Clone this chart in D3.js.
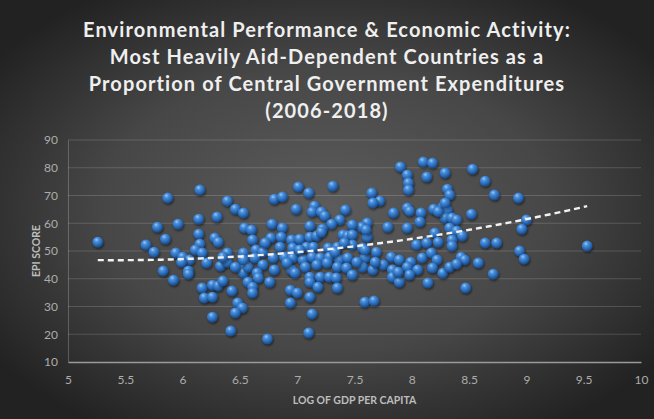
<!DOCTYPE html>
<html><head><meta charset="utf-8">
<script src="https://cdn.jsdelivr.net/npm/d3@7"></script>
<style>
html,body{margin:0;padding:0;background:#333;}
svg{display:block;}
</style></head>
<body>
<svg id="chart" width="654" height="419"></svg>
<script>
const titleLines = [
  "Environmental Performance & Economic Activity:",
  "Most Heavily Aid-Dependent Countries as a",
  "Proportion of Central Government Expenditures",
  "(2006-2018)"
];
const xTicks = [5,5.5,6,6.5,7,7.5,8,8.5,9,9.5,10];
const yTicks = [10,20,30,40,50,60,70,80,90];
const xTitle = "LOG OF GDP PER CAPITA";
const yTitle = "EPI SCORE";

const gdpLog = [
5.26,5.68,5.75,5.78,5.85,5.87,5.83,5.92,5.96,5.94,6.00,6.06,5.99,6.05,6.05,6.15,6.14,6.14,6.15,6.11,
6.17,6.21,6.30,6.28,6.31,6.33,6.39,6.39,6.35,6.53,6.39,6.46,6.53,6.54,6.17,6.19,6.26,6.26,6.31,6.35,
6.43,6.48,6.52,6.46,6.26,6.42,6.53,6.53,6.57,6.57,6.53,6.46,
7.31,7.01,7.10,6.80,6.87,6.99,7.15,7.13,7.21,7.24,7.42,7.65,7.72,7.66,7.90,8.10,8.18,8.29,
8.13,7.96,7.97,7.97,8.31,7.84,7.96,7.98,8.08,8.19,8.27,8.31,8.29,8.07,7.96,7.79,7.61,7.56,7.48,7.37,
7.30,7.11,7.22,6.78,6.87,6.60,6.61,6.77,6.86,6.95,7.02,7.11,7.17,7.21,7.40,7.44,7.48,7.61,7.60,8.04,
8.13,8.20,6.85,6.96,7.08,7.14,7.27,7.35,7.48,7.57,7.69,6.64,6.70,6.63,6.79,6.89,6.96,7.05,7.13,7.20,
7.28,7.37,7.44,7.59,7.82,7.89,7.99,8.09,8.17,8.22,6.70,6.80,6.95,7.07,7.17,7.26,7.35,7.43,7.57,7.66,
7.75,7.83,7.96,8.05,8.18,6.65,6.98,7.11,7.20,7.28,7.34,7.48,7.83,7.98,6.66,6.76,7.11,7.35,7.18,7.89,
8.14,6.61,6.61,6.94,7.00,7.11,6.94,7.59,7.67,7.13,7.10,6.74,
7.59,8.23,8.23,7.68,7.88,8.27,
8.53,8.64,8.33,8.72,8.93,8.52,8.35,8.39,9.00,8.96,8.33,8.39,8.44,8.35,8.35,8.64,8.74,9.53,8.43,8.46,
8.94,8.98,8.33,8.39,8.58,8.71,8.47,
8.29,6.72,6.91,7.02,7.33,7.52,7.41
];
const epiScore = [
53.2,52.2,49.6,58.6,54.3,69.1,42.8,39.5,59.7,49.3,47.8,46.8,46.0,42.8,41.7,72.0,61.5,56.1,52.5,50.4,
49.3,45.7,62.3,54.7,53.2,44.6,46.0,49.3,47.8,49.3,68.0,65.1,63.7,58.3,36.7,33.1,37.7,33.4,37.4,39.2,
35.6,31.3,29.5,27.7,26.2,21.2,43.9,42.1,38.8,44.2,46.8,44.2,
73.4,73.1,70.9,68.7,69.5,65.1,66.2,64.1,64.1,62.6,64.8,70.9,68.0,67.3,80.3,82.1,81.7,78.1,
76.7,77.4,74.5,72.0,72.3,63.7,65.5,64.4,63.7,65.1,65.9,64.8,61.9,60.5,58.3,58.6,60.1,58.6,59.4,61.2,
59.7,59.0,57.9,59.7,58.3,57.6,54.0,54.7,55.0,54.0,54.3,55.0,55.4,56.8,55.8,55.4,55.8,55.0,57.6,52.2,
52.9,56.5,51.4,51.1,51.4,51.4,51.1,51.4,52.2,51.1,49.6,50.4,49.6,47.5,47.5,47.8,47.5,46.8,47.8,47.5,
47.8,46.8,47.5,47.5,47.8,46.8,46.0,47.5,49.3,46.8,45.0,43.2,43.2,44.2,45.0,45.7,44.2,43.9,44.2,43.2,
45.0,43.2,44.2,43.2,43.9,42.1,42.1,40.6,40.6,40.6,40.3,41.4,40.6,41.4,40.3,38.8,38.8,36.7,37.0,38.8,
38.5,37.0,34.9,35.9,34.9,33.4,31.3,31.6,32.0,27.3,20.5,18.3,
50.4,64.2,53.2,46.0,42.4,42.0,
79.5,75.2,70.2,70.2,69.1,63.3,61.9,61.2,61.2,57.9,58.3,57.2,55.4,54.0,51.8,52.9,52.9,51.8,47.8,46.8,
50.0,47.1,44.2,45.3,45.7,41.7,36.7,
67.3,52.9,45.7,50.4,49.6,46.0,52.9
];

const W = 654, H = 419;
const m = {left: 68, right: 13, top: 140, bottom: 57};
const svg = d3.select("#chart");
const defs = svg.append("defs");

const bg = defs.append("radialGradient").attr("id","bg")
  .attr("cx","50%").attr("cy","50%").attr("r","62%");
bg.append("stop").attr("offset","0%").attr("stop-color","#5c5c5c");
bg.append("stop").attr("offset","55%").attr("stop-color","#474747");
bg.append("stop").attr("offset","100%").attr("stop-color","#222222");

const ball = defs.append("radialGradient").attr("id","ball")
  .attr("cx","40%").attr("cy","32%").attr("r","65%").attr("fx","38%").attr("fy","28%");
ball.append("stop").attr("offset","0%").attr("stop-color","#9cc9f7");
ball.append("stop").attr("offset","30%").attr("stop-color","#4a90dc");
ball.append("stop").attr("offset","75%").attr("stop-color","#2766b3");
ball.append("stop").attr("offset","100%").attr("stop-color","#1b4c88");

const sh = defs.append("filter").attr("id","shadow").attr("x","-50%").attr("y","-50%").attr("width","200%").attr("height","200%");
sh.append("feDropShadow").attr("dx",0.8).attr("dy",1.5).attr("stdDeviation",1.1)
  .attr("flood-color","#000").attr("flood-opacity",0.55);

svg.append("rect").attr("width",W).attr("height",H).attr("fill","url(#bg)");

const x = d3.scaleLinear().domain([5,10]).range([m.left, W - m.right]);
const y = d3.scaleLinear().domain([10,90]).range([H - m.bottom, m.top]);

// gridlines
svg.append("g").selectAll("line").data(yTicks.slice(1)).join("line")
  .attr("x1", x(5)).attr("x2", x(10))
  .attr("y1", d => y(d)).attr("y2", d => y(d))
  .attr("stroke","#ffffff").attr("stroke-opacity",0.16).attr("stroke-width",1);

// y axis
const yAxis = svg.append("g").attr("transform",`translate(${x(5)},0)`)
  .call(d3.axisLeft(y).tickValues(yTicks).tickSize(0).tickPadding(10));
yAxis.select(".domain").attr("stroke","#ffffff").attr("stroke-opacity",0.22);
yAxis.selectAll("text").attr("fill","#acacac").style("font-family","Lato, 'Liberation Sans', sans-serif").style("font-size","12px");

// x axis
const xAxis = svg.append("g").attr("transform",`translate(0,${y(10)})`)
  .call(d3.axisBottom(x).tickValues(xTicks).tickSize(0).tickPadding(13).tickFormat(d => String(d)));
xAxis.select(".domain").attr("stroke","#9a9a9a").attr("stroke-width",1.5);
xAxis.selectAll("text").attr("fill","#acacac").style("font-family","Lato, 'Liberation Sans', sans-serif").style("font-size","12px");

// axis titles
svg.append("text").attr("x", (x(5)+x(10))/2).attr("y", 404)
  .attr("text-anchor","middle").attr("fill","#bdbdbd")
  .style("font-family","Lato, 'Liberation Sans', sans-serif").style("font-size","10.5px").style("font-weight","bold")
  .text(xTitle);
svg.append("text").attr("transform",`translate(40,${(y(10)+y(90))/2}) rotate(-90)`)
  .attr("text-anchor","middle").attr("fill","#bdbdbd")
  .style("font-family","Lato, 'Liberation Sans', sans-serif").style("font-size","10.5px").style("font-weight","bold")
  .text(yTitle);

// title
svg.append("g").selectAll("text").data(titleLines).join("text")
  .attr("x", 327).attr("y", (d,i) => 37 + i*27)
  .attr("text-anchor","middle").attr("fill","#efefef")
  .style("font-family","Lato, 'Open Sans', sans-serif").style("font-size","20px").style("font-weight","bold")
  .style("letter-spacing","1.1px")
  .text(d => d);

// points
const pts = gdpLog.map((v,i) => ({x: v, y: epiScore[i]}));
svg.append("g").selectAll("circle").data(pts).join("circle")
  .attr("cx", d => x(d.x)).attr("cy", d => y(d.y)).attr("r", 5.4)
  .attr("fill","url(#ball)").attr("filter","url(#shadow)");

// quadratic (order 2 polynomial) least-squares trendline from the data
function polyFit2(xs, ys){
  let S=[0,0,0,0,0], T=[0,0,0];
  xs.forEach((xv,i)=>{ let p=1; for(let k=0;k<5;k++){S[k]+=p; if(k<3) T[k]+=p*ys[i]; p*=xv;} });
  const A=[[S[0],S[1],S[2],T[0]],[S[1],S[2],S[3],T[1]],[S[2],S[3],S[4],T[2]]];
  for(let c=0;c<3;c++){
    for(let r=c+1;r<3;r++){ const f=A[r][c]/A[c][c]; for(let k=c;k<4;k++) A[r][k]-=f*A[c][k]; }
  }
  const b=[0,0,0];
  for(let r=2;r>=0;r--){ let s=A[r][3]; for(let k=r+1;k<3;k++) s-=A[r][k]*b[k]; b[r]=s/A[r][r]; }
  return b;
}
const coef = polyFit2(gdpLog, epiScore);
const [xmin, xmax] = d3.extent(gdpLog);
const trend = d3.range(0, 101).map(i => { const xv = xmin + (xmax-xmin)*i/100; return [xv, coef[0]+coef[1]*xv+coef[2]*xv*xv]; });
svg.append("path").datum(trend)
  .attr("d", d3.line().x(d => x(d[0])).y(d => y(d[1])))
  .attr("fill","none").attr("stroke","#f2f2f2").attr("stroke-width",2.4)
  .attr("stroke-dasharray","6,4");
</script>
</body></html>
